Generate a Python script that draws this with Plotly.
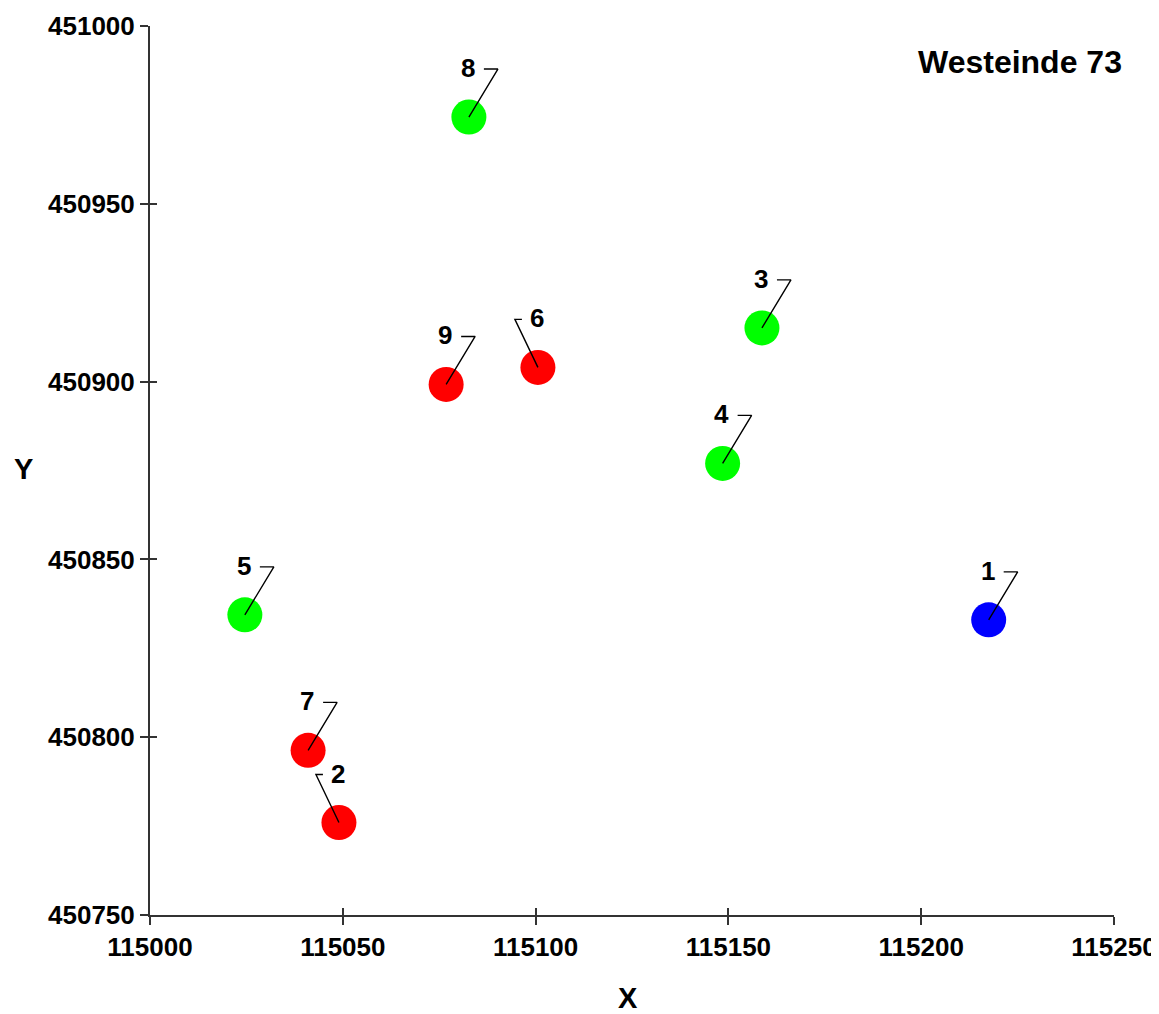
import plotly.graph_objects as go

# Data
ids = ["1", "2", "3", "4", "5", "6", "7", "8", "9"]
xs = [115217.5, 115049.0, 115158.7, 115148.5, 115024.6, 115100.6, 115041.0, 115082.7, 115076.8]
ys = [450833.0, 450776.0, 450915.1, 450877.0, 450834.4, 450904.0, 450796.3, 450974.4, 450899.2]
colors = ["#0000FF", "#FF0000", "#00FF00", "#00FF00", "#00FF00", "#FF0000", "#FF0000", "#00FF00", "#FF0000"]
leader_side = ["R", "L", "R", "R", "R", "L", "R", "R", "R"]
x_ticks = [115000, 115050, 115100, 115150, 115200, 115250]
y_ticks = [450750, 450800, 450850, 450900, 450950, 451000]
title_text = "Westeinde 73"

# Layout geometry (page body has an 8px margin)
OFF = 8
W, H = 1151, 1006
ML, MR, MT, MB = 150 - OFF, 45, 26 - OFF, 99
xr = [115000, 115250]
yr = [450750, 451000]
pw = W - ML - MR
ph = H - MT - MB
sx = pw / (xr[1] - xr[0])
sy = ph / (yr[1] - yr[0])

FONT = "Liberation Sans"

fig = go.Figure()
fig.add_trace(go.Scatter(
    x=xs, y=ys, mode="markers",
    marker=dict(size=35, color=colors, line=dict(width=0)),
    hoverinfo="skip", showlegend=False))

# leader lines (pixel offsets converted to data units)
lx, ly = [], []
for x, y, s in zip(xs, ys, leader_side):
    if s == "R":
        cx, hx = 29, 15
    else:
        cx, hx = -23, -16
    cy = 48
    lx += [x, x + cx / sx, x + hx / sx, None]
    ly += [y, y + cy / sy, y + cy / sy, None]
fig.add_trace(go.Scatter(x=lx, y=ly, mode="lines",
                         line=dict(color="black", width=1.4),
                         hoverinfo="skip", showlegend=False))

# invisible trace for the overlay axes (inner tick halves)
fig.add_trace(go.Scatter(x=[xr[0]], y=[yr[0]], xaxis="x2", yaxis="y2",
                         mode="markers", marker=dict(opacity=0),
                         hoverinfo="skip", showlegend=False))

bold = lambda s: dict(family=FONT, size=s, color="black", weight="bold")

def px_to_paper(px, py):
    return (px - 150) / pw, 1 - (py - 26) / ph

annotations = []
for x, y, t in zip(xs, ys, ids):
    annotations.append(dict(x=x, y=y, xref="x", yref="y", text=t, xanchor="center", yanchor="middle",
                            showarrow=False, yshift=49, xshift=-1, font=bold(26)))
for (px, py), txt, size in [((1020, 62), title_text, 32), ((23, 469), "Y", 29), ((628, 998), "X", 29)]:
    ax_, ay_ = px_to_paper(px, py)
    annotations.append(dict(x=ax_, y=ay_, xref="paper", yref="paper", text=txt,
                            xanchor="center", yanchor="middle", showarrow=False, font=bold(size)))

axis_common = dict(showgrid=False, zeroline=False, showline=True, linecolor="#333333",
                   linewidth=2, ticks="outside", ticklen=8, tickwidth=2, tickcolor="#333333",
                   tickfont=bold(26), automargin=False, ticklabeloverflow="allow")

fig.update_layout(
    width=W, height=H,
    margin=dict(l=ML, r=MR, t=MT, b=MB, pad=0, autoexpand=False),
    plot_bgcolor="white", paper_bgcolor="white",
    xaxis=dict(range=xr, tickvals=x_ticks, ticktext=[str(v) for v in x_ticks], **axis_common),
    yaxis=dict(range=yr, tickvals=y_ticks, ticktext=[str(v) for v in y_ticks], **axis_common),
    xaxis2=dict(range=xr, overlaying="x", anchor="y2", side="bottom", tickvals=x_ticks,
                showticklabels=False, ticks="inside", ticklen=7, tickwidth=2, tickcolor="#333333",
                showgrid=False, zeroline=False, showline=False),
    yaxis2=dict(range=yr, overlaying="y", anchor="x2", side="left", tickvals=y_ticks,
                showticklabels=False, ticks="inside", ticklen=7, tickwidth=2, tickcolor="#333333",
                showgrid=False, zeroline=False, showline=False),
    annotations=annotations,
)
fig.write_html("out.html")
